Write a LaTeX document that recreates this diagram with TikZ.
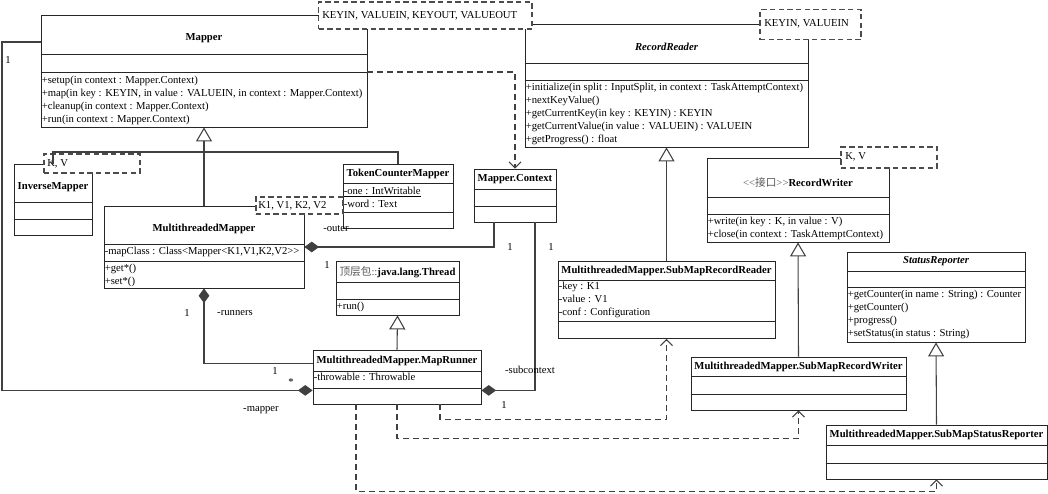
\documentclass[tikz,border=0pt]{standalone}
\usepackage{fontspec}
\setmainfont{Liberation Serif}[Ligatures=TeXOff]
\newfontfamily\cjk{Noto Sans CJK SC}
\usetikzlibrary{arrows.meta,fit,calc}

\tikzset{
  classbox/.style={draw=black!85, line width=0.6pt, fill=white, inner sep=0pt},
  classline/.style={draw=black!85, line width=0.6pt},
  tmplbox/.style={draw=black!70, line width=0.8pt, dash pattern={on 4pt off 2.5pt}, fill=white, inner sep=0pt},
  ctitle/.style={font=\fontsize{8}{9.75}\selectfont\bfseries, inner sep=0pt},
  member/.style={font=\fontsize{8}{9.75}\selectfont, align=left, anchor=north west, inner sep=0pt},
  multtext/.style={font=\fontsize{8}{9.75}\selectfont, inner sep=0pt},
  conn/.style={draw=black!75, line width=0.8pt},
  gen/.style={conn, -{Triangle[open, length=10.5pt, width=12pt]}},
  dep/.style={conn, dash pattern={on 4.5pt off 3pt}, -{Straight Barb[length=4.5pt, width=9pt]}},
  comp/.style={conn, {Diamond[length=11pt, width=8pt]}-},
}

% class box: name, x1, y1, x2, y2, separator 1, separator 2
\newcommand{\umlclass}[7]{%
  \node[classbox, fit={(#2,#3) (#4,#5)}] (#1) {};
  \draw[classline] (#1.west |- 0,#6) -- (#1.east |- 0,#6);
  \draw[classline] (#1.west |- 0,#7) -- (#1.east |- 0,#7);
}

\begin{document}
\begin{tikzpicture}[x=0.75pt,y=0.75pt,yscale=-1,xscale=1]
\useasboundingbox (0,0) rectangle (1048,493);

% Classes
\umlclass{mapper}{41}{15.5}{367}{127}{54}{72}
\umlclass{rreader}{525}{24.5}{808}{147}{63}{80}
\umlclass{invmap}{14}{164}{92}{235}{202}{219}
\umlclass{tcmap}{343}{164}{453}{228}{183}{212}
\umlclass{mctx}{474}{169}{556}{222}{189}{206}
\umlclass{mtmap}{104}{206}{304}{288}{244}{261}
\umlclass{jthread}{336}{261}{459}{315}{282}{299}
\umlclass{mrunner}{313}{350}{481}{404}{371}{388}
\umlclass{rwriter}{707}{158}{889}{242}{197}{214}
\umlclass{smreader}{558}{261}{775}{338.5}{280}{321}
\umlclass{sreporter}{847}{252}{1025}{342}{271}{287}
\umlclass{smwriter}{691}{357}{906}{410}{376.5}{394}
\umlclass{smreporter}{826}{425}{1047}{479}{445}{463}

% Template parameters
\node[tmplbox, fit={(318.5,2) (532,29)}] (mapper-tp) {};
\node[multtext, anchor=west] (mapper-tpt) at (322,15.5) {KEYIN, VALUEIN, KEYOUT, VALUEOUT};
\node[tmplbox, fit={(760,9.5) (861,39.5)}] (rreader-tp) {};
\node[multtext, anchor=west] (rreader-tpt) at (764,24) {KEYIN, VALUEIN};
\node[tmplbox, fit={(44,154) (140,173)}] (invmap-tp) {};
\node[multtext, anchor=west] (invmap-tpt) at (47,163.5) {K, V};
\node[tmplbox, fit={(256,197) (343,214)}] (mtmap-tp) {};
\node[multtext, anchor=west] (mtmap-tpt) at (258,205.5) {K1, V1, K2, V2};
\node[tmplbox, fit={(841,147) (937,168)}] (rwriter-tp) {};
\node[multtext, anchor=west] (rwriter-tpt) at (845,157) {K, V};

% Titles
\node[ctitle] (mapper-t) at (204,38) {Mapper};
\node[ctitle] (rreader-t) at (666.5,47) {\itshape RecordReader};
\node[ctitle] (invmap-t) at (53,187) {InverseMapper};
\node[ctitle] (tcmap-t) at (398,173.5) {TokenCounterMapper};
\node[ctitle] (mctx-t) at (515,179) {Mapper.Context};
\node[ctitle] (mtmap-t) at (204,229) {MultithreadedMapper};
\node[ctitle] (jthread-t) at (397.5,272) {{\mdseries\color{black!65}{\cjk 顶层包}::}java.lang.Thread};
\node[ctitle] (mrunner-t) at (397,360.5) {MultithreadedMapper.MapRunner};
\node[ctitle] (rwriter-t) at (798,182) {{\mdseries\color{black!65}\textless\textless{\cjk 接口}\textgreater\textgreater}RecordWriter};
\node[ctitle] (smreader-t) at (666.5,270.5) {MultithreadedMapper.SubMapRecordReader};
\node[ctitle] (sreporter-t) at (936,261.5) {\itshape StatusReporter};
\node[ctitle] (smwriter-t) at (798.5,366.5) {MultithreadedMapper.SubMapRecordWriter};
\node[ctitle] (smreporter-t) at (936.5,435) {MultithreadedMapper.SubMapStatusReporter};

% Members
\node[member] (mapper-ops) at (41.5,76) {+setup(in context : Mapper.Context)\\+map(in key : KEYIN, in value : VALUEIN, in context : Mapper.Context)\\+cleanup(in context : Mapper.Context)\\+run(in context : Mapper.Context)};
\node[member] (rreader-ops) at (525.5,83) {+initialize(in split : InputSplit, in context : TaskAttemptContext)\\+nextKeyValue()\\+getCurrentKey(in key : KEYIN) : KEYIN\\+getCurrentValue(in value : VALUEIN) : VALUEIN\\+getProgress() : float};
\node[member] (tcmap-attr) at (343.5,186.5) {\underline{-one : IntWritable}\\-word : Text};
\node[member] (mtmap-attr) at (104.5,246.5) {-mapClass : Class\textless Mapper\textless K1,V1,K2,V2\textgreater\textgreater};
\node[member] (mtmap-ops) at (104.5,263.5) {+get*()\\+set*()};
\node[member] (jthread-ops) at (336.5,301.5) {+run()};
\node[member] (mrunner-attr) at (313.5,373) {-throwable : Throwable};
\node[member] (rwriter-ops) at (707.5,216.5) {+write(in key : K, in value : V)\\+close(in context : TaskAttemptContext)};
\node[member] (smreader-attr) at (558.5,281.5) {-key : K1\\-value : V1\\-conf : Configuration};
\node[member] (sreporter-ops) at (847.5,289.5) {+getCounter(in name : String) : Counter\\+getCounter()\\+progress()\\+setStatus(in status : String)};

% Generalizations
\coordinate (gen-bar) at (204,152);
\draw[conn] (invmap.north) |- (gen-bar) -| (tcmap.north);
\draw[gen] (mtmap.north) -- (mapper.south);
\draw[gen] (mrunner.north) -- (jthread.south);
\draw[gen] (smreader.north) -- (rreader.south);
\draw[gen] (smwriter.north) -- (rwriter.south);
\draw[gen] (smreporter.north) -- (sreporter.south);

% Compositions
\coordinate (leftrail) at (2,42);
\draw[comp] ($(mrunner.south west)+(0,-14)$) -| (leftrail) -- (mapper.west |- leftrail);
\draw[comp] (mtmap.south) |- ($(mrunner.north west)+(0,14)$);
\draw[comp] (mtmap.east) -| ($(mctx.south)+(-21,0)$);
\draw[comp] ($(mrunner.south east)+(0,-14)$) -| ($(mctx.south)+(20,0)$);

% Dependencies
\draw[dep] (mapper.east |- 0,72) -| (mctx.north);
\draw[dep] ($(mrunner.south)+(43,0)$) -- ++(0,15) -| (smreader.south);
\draw[dep] (mrunner.south) -- ++(0,34) -| (smwriter.south);
\draw[dep] ($(mrunner.south)+(-41,0)$) -- ++(0,87) -| (smreporter.south);

% Role names and multiplicities
\node[multtext] (m-mapper1) at (8,60) {1};
\node[multtext] (m-mapper2) at (291,382) {*};
\node[multtext] (r-mapper) at (261,410) {-mapper};
\node[multtext] (m-runners1) at (187,313) {1};
\node[multtext] (r-runners) at (235,313) {-runners};
\node[multtext] (m-runners2) at (275,371) {1};
\node[multtext] (r-outer) at (336,229) {-outer};
\node[multtext] (m-outer1) at (327,265) {1};
\node[multtext] (m-outer2) at (510,247) {1};
\node[multtext] (m-sub1) at (551,247) {1};
\node[multtext] (r-sub) at (530,370) {-subcontext};
\node[multtext] (m-sub2) at (504,405) {1};

\end{tikzpicture}
\end{document}
